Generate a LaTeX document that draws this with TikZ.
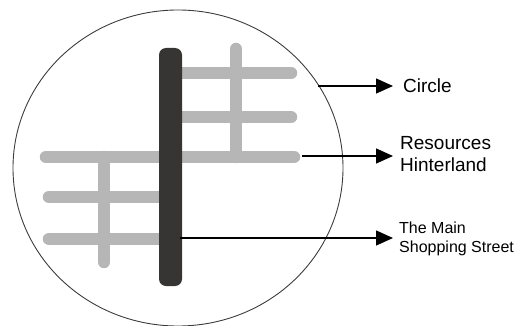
\documentclass[tikz,border=0pt]{standalone}
\usepackage{fontspec}
\setmainfont{Liberation Sans}
\usetikzlibrary{arrows.meta}
\definecolor{roadgray}{RGB}{181,182,181}
\definecolor{streetdark}{RGB}{55,53,51}
\definecolor{rimgray}{RGB}{60,60,60}
\begin{document}
\begin{tikzpicture}[x=1pt,y=-1pt,
  road/.style={draw=roadgray,line width=12.5pt,line cap=round},
  pointer/.style={draw=black,line width=1.4pt,-{Triangle[length=17pt,width=15pt]}},
  label/.style={anchor=west,inner sep=0pt,align=left,text=black}]
\useasboundingbox (0,0) rectangle (532,326);
% town boundary
\draw[rimgray,line width=0.9pt] (178,168) ellipse [x radius=165, y radius=158];
% side roads
\draw[road] (182,73) -- (291,73);
\draw[road] (182,117) -- (291,117);
\draw[road] (46,157) -- (294,157);
\draw[road] (236,49) -- (236,157);
\draw[road] (49,197) -- (165,197);
\draw[road] (49,239) -- (165,239);
\draw[road] (104,157) -- (104,262);
% main shopping street
\node[fill=streetdark,rounded corners=7pt,minimum width=23pt,minimum height=238pt,inner sep=0pt] (street) at (170.5,167) {};
% pointer start points
\coordinate (rim) at (318,86);
\coordinate (roadend) at (302,156);
\coordinate (streetside) at (180,238);
% labels
\node[label,font=\fontsize{19}{22}\selectfont] (circ) at (403,86) {Circle};
\node[label,font=\fontsize{19}{22}\selectfont] (res) at (400,154) {Resources\\Hinterland};
\node[label,font=\fontsize{16}{19}\selectfont] (shop) at (399,238.5) {The Main\\Shopping Street};
% pointers
\draw[pointer] (rim) -- (circ.west -| 393,0);
\draw[pointer] (roadend) -- (393,156);
\draw[pointer] (streetside) -- (393,238);
\end{tikzpicture}
\end{document}
